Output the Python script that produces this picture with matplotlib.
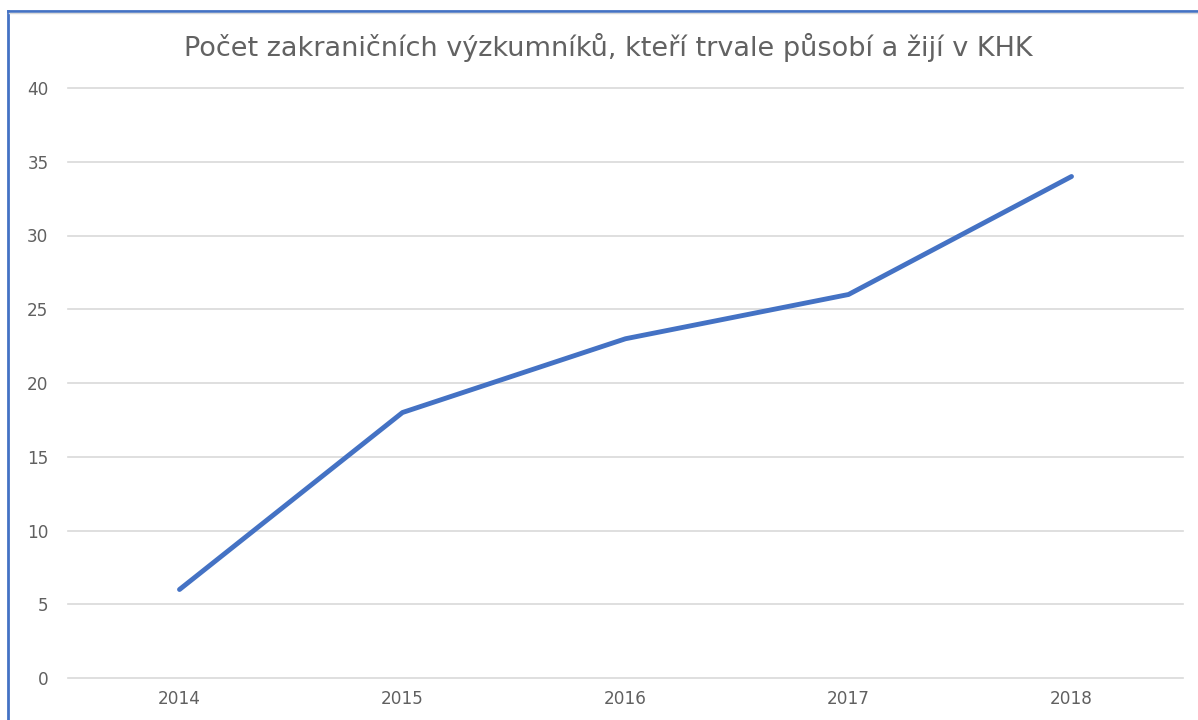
import matplotlib
matplotlib.use('Agg')
import matplotlib.pyplot as plt
from matplotlib.lines import Line2D

# data
years = ['2014', '2015', '2016', '2017', '2018']
counts = [6, 18, 23, 26, 34]
title = 'Počet zakraničních výzkumníků, kteří trvale působí a žijí v KHK'

plt.rcParams['font.family'] = ['DejaVu Sans']

W, H = 1198, 720
fig = plt.figure(figsize=(W / 100, H / 100), dpi=100)
ax = fig.add_axes([68 / W, 1 - 678 / H, (1183 - 68) / W, (678 - 88) / H])

x = range(len(years))
ax.plot(x, counts, color='#4472C4', linewidth=3.5, solid_capstyle='round')

ax.set_xlim(-0.5, len(years) - 0.5)
ax.set_ylim(0, 40)
ax.set_yticks(range(0, 41, 5))
ax.set_xticks(list(x))
ax.set_xticklabels(years)
ax.grid(axis='y', color='#D9D9D9', linewidth=1.2)
for gl in ax.get_ygridlines():
    gl.set_clip_on(False)
ax.set_axisbelow(True)
for s in ax.spines.values():
    s.set_visible(False)
ax.tick_params(length=0, labelsize=12.2, colors='#606060')
ax.tick_params(axis='y', pad=14)
ax.tick_params(axis='x', pad=9)

fig.text(608 / W, 1 - 47 / H, title, ha='center', va='center',
         fontsize=19.5, color='#626262')

# chart frame
fig.add_artist(Line2D([8 / W, 8 / W], [0, 1 - 11 / H], color='#4472C4', linewidth=2))
fig.add_artist(Line2D([8 / W, 1], [1 - 11 / H, 1 - 11 / H], color='#4472C4', linewidth=2))
fig.add_artist(Line2D([9 / W, 1], [1 - 13 / H, 1 - 13 / H], color='#D9D9D9', linewidth=1))

fig.savefig('out.png', dpi=100)
